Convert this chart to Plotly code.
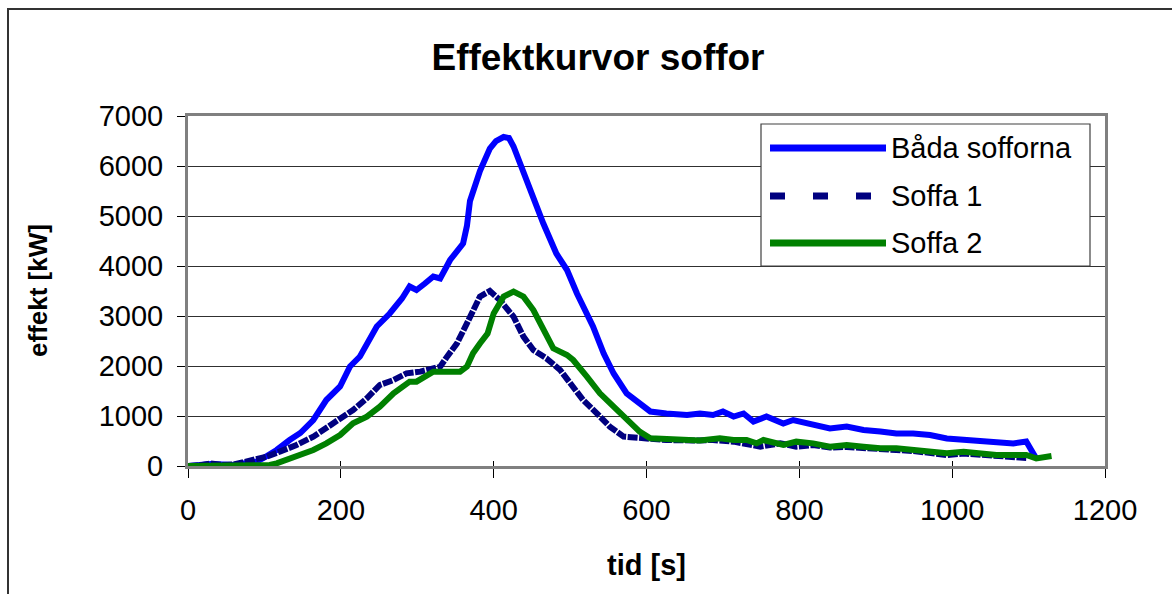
import plotly.graph_objects as go

# Heat release rate curves (time in s, effect in kW)
t_bada = [0, 30, 60, 80, 90, 100, 116, 133, 147, 164, 181, 199, 212, 225, 247, 264, 280,
          290, 299, 310, 321, 330, 343, 360, 365, 369, 382, 395, 403, 413, 420, 426, 439,
          452, 465, 482, 496, 509, 530, 544, 557, 574, 591, 605, 626, 653, 670, 687, 700,
          714, 727, 740, 757, 779, 792, 818, 840, 862, 884, 906, 927, 949, 971, 993, 1015,
          1036, 1058, 1080, 1097, 1110]
bada = [0, 40, 20, 60, 90, 170, 320, 520, 660, 920, 1320, 1590, 1990, 2190, 2790, 3050, 3350,
        3590, 3520, 3650, 3790, 3750, 4120, 4450, 4800, 5300, 5900, 6350, 6500, 6580, 6560, 6390, 5850,
        5320, 4850, 4250, 3920, 3450, 2790, 2250, 1850, 1450, 1250, 1090, 1050, 1020, 1050, 1020, 1090,
        990, 1050, 890, 990, 850, 920, 820, 750, 790, 720, 690, 650, 650, 620, 550, 520,
        520, 490, 450, 490, 150]

t_soffa1 = [0, 15, 29, 45, 60, 77, 90, 103, 120, 142, 164, 181, 199, 216, 234, 251, 269, 286,
            304, 330, 339, 352, 365, 373, 382, 395, 408, 426, 439, 452, 469, 487, 504, 517,
            535, 552, 570, 591, 626, 660, 687, 714, 749, 775, 796, 818, 840, 862, 884, 906,
            927, 949, 971, 993, 1015, 1036, 1058, 1080, 1097]
soffa1 = [0, 10, 50, 20, 30, 87, 120, 187, 287, 420, 587, 753, 953, 1120, 1353, 1620, 1720, 1853,
          1887, 1987, 2187, 2453, 2853, 3100, 3387, 3500, 3320, 2987, 2587, 2320, 2153, 1920, 1587, 1320,
          1053, 787, 587, 553, 520, 510, 520, 487, 387, 453, 387, 420, 370, 380, 350, 330,
          320, 300, 260, 220, 250, 230, 200, 190, 160]

t_soffa2 = [0, 50, 90, 107, 116, 129, 142, 164, 181, 199, 216, 234, 251, 269, 290, 299, 321,
            340, 356, 365, 373, 382, 392, 400, 413, 426, 439, 452, 465, 478, 496, 504, 522,
            539, 557, 574, 591, 605, 644, 670, 696, 714, 731, 744, 753, 779, 796, 818, 840,
            862, 884, 906, 927, 949, 971, 993, 1015, 1036, 1058, 1080, 1097, 1110, 1130]
soffa2 = [0, 0, 5, 20, 53, 120, 200, 320, 453, 620, 853, 987, 1187, 1453, 1687, 1687, 1887,
          1900, 1887, 1987, 2253, 2450, 2650, 3053, 3387, 3487, 3387, 3120, 2720, 2353, 2220, 2120, 1787,
          1453, 1187, 920, 687, 553, 520, 510, 553, 520, 520, 453, 520, 420, 487, 453, 387,
          420, 387, 353, 353, 320, 287, 253, 287, 253, 220, 220, 220, 153, 200]

series_names = ["Båda sofforna", "Soffa 1", "Soffa 2"]
x_ticks = [0, 200, 400, 600, 800, 1000, 1200]
y_ticks = [0, 1000, 2000, 3000, 4000, 5000, 6000, 7000]

BLUE, NAVY, GREEN = "#0000FF", "#000080", "#008000"
FONT = "Arial, Liberation Sans, sans-serif"

# figure geometry (pixels)
W, H = 1172, 594
L, R, T, B = 188, 1105, 116, 466


def px(x):
    return (x - L) / (R - L)


def py(y):
    return (B - y) / (B - T)


fig = go.Figure()
fig.add_trace(go.Scatter(x=t_bada, y=bada, mode="lines", name=series_names[0],
                         line=dict(color=BLUE, width=6), showlegend=False))
fig.add_trace(go.Scatter(x=t_soffa1, y=soffa1, mode="lines", name=series_names[1],
                         line=dict(color=NAVY, width=6, dash="10px,1.5px"), showlegend=False))
fig.add_trace(go.Scatter(x=t_soffa2, y=soffa2, mode="lines", name=series_names[2],
                         line=dict(color=GREEN, width=6), showlegend=False))
# overlay axis used only for the short inner part of the x ticks
fig.add_trace(go.Scatter(x=[None], y=[None], xaxis="x2", showlegend=False))

shapes = []
annotations = []

# outer chart frame
shapes.append(dict(type="rect", xref="paper", yref="paper",
                   x0=px(8), x1=px(W + 20), y0=py(H + 20), y1=py(9),
                   line=dict(color="#333333", width=2), layer="below"))

# legend box
shapes.append(dict(type="rect", xref="paper", yref="paper",
                   x0=px(761), x1=px(1090), y0=py(266), y1=py(124),
                   fillcolor="white", line=dict(color="#404040", width=1.2), layer="above"))
rows = [148, 196, 243]
styles = [dict(color=BLUE, width=7), dict(color=NAVY, width=7, dash="15px,28px"),
          dict(color=GREEN, width=7)]
for yy, st, name in zip(rows, styles, series_names):
    shapes.append(dict(type="line", xref="paper", yref="paper",
                       x0=px(770), x1=px(886), y0=py(yy), y1=py(yy), line=st, layer="above"))
    annotations.append(dict(xref="paper", yref="paper", x=px(889), y=py(yy),
                            xanchor="left", yanchor="middle", showarrow=False,
                            text=name, font=dict(family=FONT, size=29, color="black")))

# axis titles
annotations.append(dict(xref="paper", yref="paper", x=0.5, y=py(565),
                        xanchor="center", yanchor="middle", showarrow=False,
                        text="tid [s]", font=dict(family=FONT, size=29, color="black", weight="bold")))
annotations.append(dict(xref="paper", yref="paper", x=px(38), y=0.5, textangle=-90,
                        xanchor="center", yanchor="middle", showarrow=False,
                        text="effekt [kW]", font=dict(family=FONT, size=26, color="black", weight="bold")))

fig.update_layout(
    width=W, height=H,
    margin=dict(l=L, r=W - R, t=T, b=H - B, pad=0),
    paper_bgcolor="white", plot_bgcolor="white",
    font=dict(family=FONT, size=29, color="black"),
    title=dict(text="Effektkurvor soffor", x=598 / W, xanchor="center", xref="container",
               y=1 - 57 / H, yanchor="middle",
               font=dict(family=FONT, size=37, color="black", weight="bold")),
    showlegend=False,
    shapes=shapes,
    annotations=annotations,
    xaxis=dict(range=[0, 1200], tickvals=x_ticks, ticktext=[str(v) for v in x_ticks],
               showgrid=False, zeroline=False,
               showline=True, linecolor="#808080", linewidth=3, mirror=True,
               ticks="outside", ticklen=9, tickcolor="black", tickwidth=1,
               ticklabelstandoff=7,
               tickfont=dict(family=FONT, size=29, color="black")),
    xaxis2=dict(range=[0, 1200], overlaying="x", anchor="y", side="bottom",
                tickvals=x_ticks, showticklabels=False, showgrid=False, zeroline=False,
                ticks="inside", ticklen=5, tickcolor="black", tickwidth=1, showline=False),
    yaxis=dict(range=[0, 7000], tickvals=y_ticks, ticktext=[str(v) for v in y_ticks],
               showgrid=True, gridcolor="#303030", gridwidth=1, zeroline=False,
               showline=True, linecolor="#808080", linewidth=3, mirror=True,
               ticks="outside", ticklen=8, tickcolor="black", tickwidth=1,
               ticklabelstandoff=8,
               tickfont=dict(family=FONT, size=29, color="black")),
)

fig.write_html("out.html")
